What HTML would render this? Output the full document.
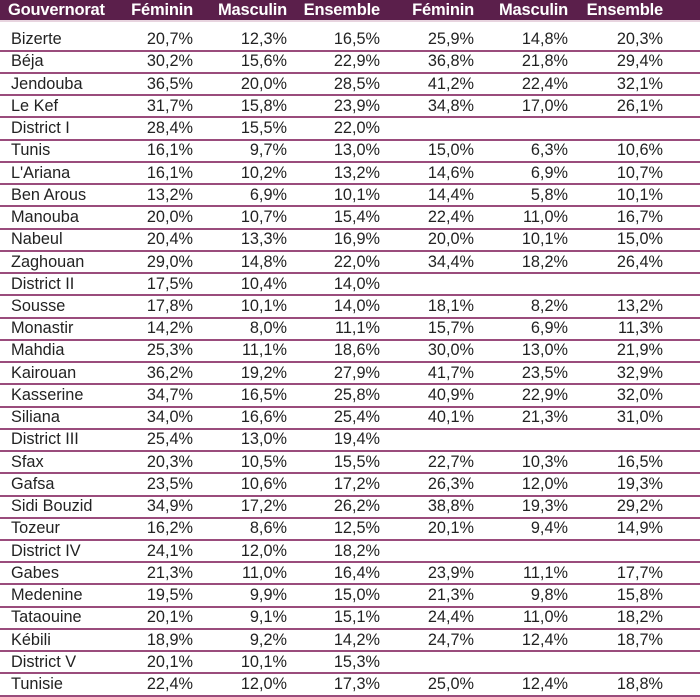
<!DOCTYPE html>
<html><head><meta charset="utf-8"><style>
body{margin:0;width:700px;height:697px;background:#fff;overflow:hidden;font-family:"Liberation Sans",sans-serif;}
.h{position:absolute;left:0;top:0;width:700px;height:20px;background:#5b1f4b;border-bottom:2px solid #e8d4df;}
.r{position:absolute;left:0;width:700px;height:22.24px;box-sizing:border-box;border-bottom:2px solid #9a4c7c;display:flex;align-items:center;font-size:16.3px;color:#222;}
.h .c,.r .c{text-align:right;flex:none;white-space:nowrap}
.h{display:flex;align-items:center;color:#fff;font-weight:bold;font-size:16.5px;letter-spacing:-0.2px}
.c0{width:100px;text-align:left!important;padding-left:11px;box-sizing:border-box}
.h .c0{padding-left:8px}
.c1{width:93px}.c2{width:94px}.c3{width:93px}.c4{width:94px}.c5{width:94px}.c6{width:95px}
</style></head><body>
<div class="h"><div class="c c0">Gouvernorat</div><div class="c c1">Féminin</div><div class="c c2">Masculin</div><div class="c c3">Ensemble</div><div class="c c4">Féminin</div><div class="c c5">Masculin</div><div class="c c6">Ensemble</div></div>
<div id="t"></div>
<script>
var d=[["Bizerte","20,7%","12,3%","16,5%","25,9%","14,8%","20,3%"],
["Béja","30,2%","15,6%","22,9%","36,8%","21,8%","29,4%"],
["Jendouba","36,5%","20,0%","28,5%","41,2%","22,4%","32,1%"],
["Le Kef","31,7%","15,8%","23,9%","34,8%","17,0%","26,1%"],
["District I","28,4%","15,5%","22,0%","","",""],
["Tunis","16,1%","9,7%","13,0%","15,0%","6,3%","10,6%"],
["L'Ariana","16,1%","10,2%","13,2%","14,6%","6,9%","10,7%"],
["Ben Arous","13,2%","6,9%","10,1%","14,4%","5,8%","10,1%"],
["Manouba","20,0%","10,7%","15,4%","22,4%","11,0%","16,7%"],
["Nabeul","20,4%","13,3%","16,9%","20,0%","10,1%","15,0%"],
["Zaghouan","29,0%","14,8%","22,0%","34,4%","18,2%","26,4%"],
["District II","17,5%","10,4%","14,0%","","",""],
["Sousse","17,8%","10,1%","14,0%","18,1%","8,2%","13,2%"],
["Monastir","14,2%","8,0%","11,1%","15,7%","6,9%","11,3%"],
["Mahdia","25,3%","11,1%","18,6%","30,0%","13,0%","21,9%"],
["Kairouan","36,2%","19,2%","27,9%","41,7%","23,5%","32,9%"],
["Kasserine","34,7%","16,5%","25,8%","40,9%","22,9%","32,0%"],
["Siliana","34,0%","16,6%","25,4%","40,1%","21,3%","31,0%"],
["District III","25,4%","13,0%","19,4%","","",""],
["Sfax","20,3%","10,5%","15,5%","22,7%","10,3%","16,5%"],
["Gafsa","23,5%","10,6%","17,2%","26,3%","12,0%","19,3%"],
["Sidi Bouzid","34,9%","17,2%","26,2%","38,8%","19,3%","29,2%"],
["Tozeur","16,2%","8,6%","12,5%","20,1%","9,4%","14,9%"],
["District IV","24,1%","12,0%","18,2%","","",""],
["Gabes","21,3%","11,0%","16,4%","23,9%","11,1%","17,7%"],
["Medenine","19,5%","9,9%","15,0%","21,3%","9,8%","15,8%"],
["Tataouine","20,1%","9,1%","15,1%","24,4%","11,0%","18,2%"],
["Kébili","18,9%","9,2%","14,2%","24,7%","12,4%","18,7%"],
["District V","20,1%","10,1%","15,3%","","",""],
["Tunisie","22,4%","12,0%","17,3%","25,0%","12,4%","18,8%"]];
var h="";d.forEach(function(r,i){h+='<div class="r" style="top:'+(29.5+i*22.24)+'px">';r.forEach(function(v,j){h+='<div class="c c'+j+'">'+v+'</div>'});h+='</div>'});
document.getElementById("t").innerHTML=h;
</script>
</body></html>
